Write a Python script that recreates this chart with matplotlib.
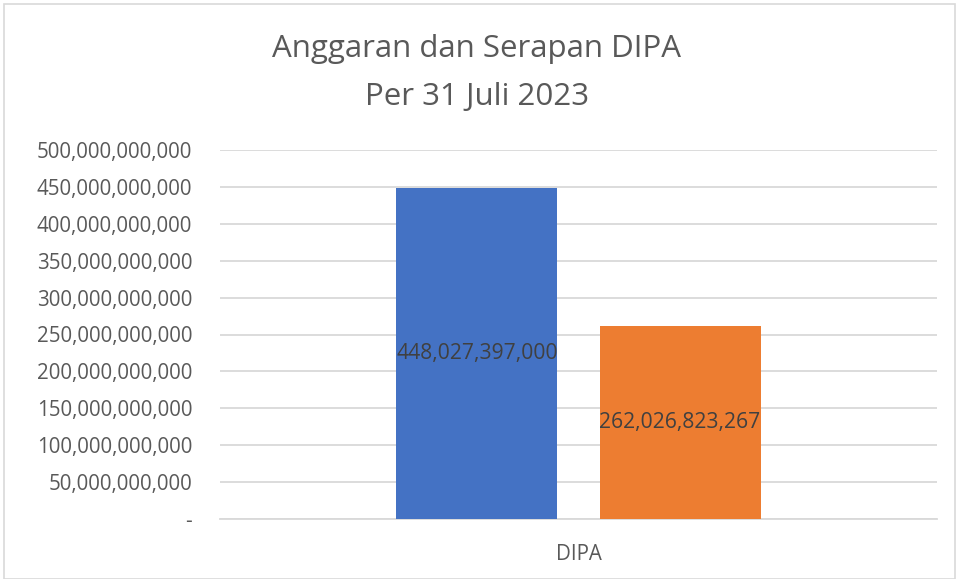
import matplotlib
matplotlib.use("Agg")
import matplotlib.pyplot as plt
from matplotlib.ticker import FuncFormatter
from matplotlib.patches import Rectangle

categories = ["DIPA"]
anggaran = [448027397000]
serapan = [262026823267]
series_colors = ["#4472C4", "#ED7D31"]
title_text = "Anggaran dan Serapan DIPA\nPer 31 Juli 2023"

plt.rcParams['font.family'] = ['Open Sans', 'DejaVu Sans']
txt = "#595959"

fig = plt.figure(figsize=(9.59, 5.79), dpi=100)
ax = fig.add_axes([220/959, 1-519/579, (937-220)/959, (519-150)/579])

# figure border
fig.patches.append(Rectangle((4/959, 0), 951/959, 1-4/579, transform=fig.transFigure,
                             fill=False, edgecolor="#D9D9D9", linewidth=1.2))

x = list(range(len(categories)))
w = 0.2245
off = 0.1416
b1 = ax.bar([i - off for i in x], anggaran, width=w, color=series_colors[0], zorder=3)
b2 = ax.bar([i + off for i in x], serapan, width=w, color=series_colors[1], zorder=3)

for bars, vals in ((b1, anggaran), (b2, serapan)):
    for r, v in zip(bars, vals):
        ax.text(r.get_x() + r.get_width()/2, v/2, f"{v:,.0f}", ha="center", va="center",
                fontsize=15.2, color="#404040", zorder=4)

ax.set_xlim(-0.5, 0.5)
ax.set_ylim(0, 500e9)
ax.set_yticks([i*50e9 for i in range(11)])
ax.yaxis.set_major_formatter(FuncFormatter(lambda v, p: "-" if v == 0 else f"{v:,.0f}"))
ax.set_xticks(x)
ax.set_xticklabels(categories)
ax.tick_params(axis="both", length=0, labelsize=14.8, labelcolor=txt)
ax.tick_params(axis="y", pad=20)
ax.tick_params(axis="x", pad=18)
ax.grid(axis="y", color="#D9D9D9", linewidth=1.3, zorder=0)
for s in ("top", "right", "left"):
    ax.spines[s].set_visible(False)
ax.spines["bottom"].set_color("#D9D9D9")
ax.spines["bottom"].set_linewidth(1.3)

fig.text(477/959, 1-73/579, title_text, ha="center", va="center", fontsize=22.5,
         color=txt, linespacing=1.75)

fig.savefig("out.png", dpi=100)
